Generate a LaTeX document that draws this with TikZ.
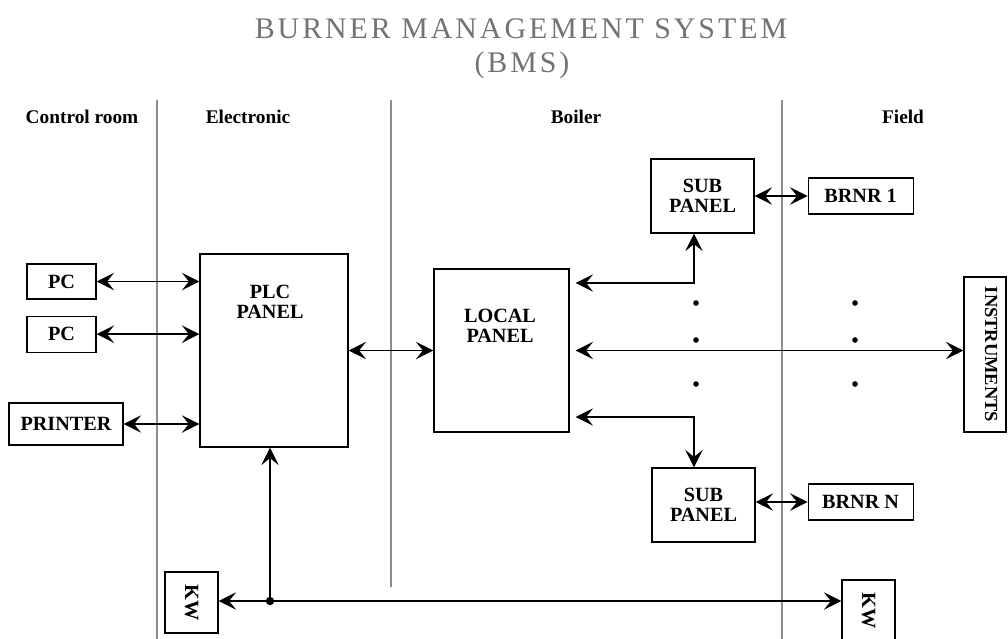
\documentclass[tikz,border=0pt]{standalone}
\usepackage{fontspec}
\setmainfont{Liberation Serif}
\usepackage{tikz}
\usetikzlibrary{positioning,calc,arrows.meta}

\begin{document}
\begin{tikzpicture}[x=0.02cm, y=-0.02cm,
                    bms block/.style={rectangle, draw, line width=0.65pt, inner sep=0pt, align=center, font=\fontsize{11.5}{11.5}\selectfont\bfseries},
                    bms text/.style={align=center, inner sep=0pt, font=\fontsize{11.5}{11.5}\selectfont\bfseries},
                    bms zone/.style={anchor=base, inner sep=0pt, font=\fontsize{11}{13}\selectfont\bfseries},
                    bms title/.style={anchor=base, inner sep=0pt, text=black!55, font=\fontsize{17}{20}\selectfont\addfontfeature{LetterSpace=10}},
                    bms sep/.style={draw=black!45, line width=0.6pt},
                    bms arrow/.style={{Stealth[length=10pt,width=10pt,inset=4pt]}-{Stealth[length=10pt,width=10pt,inset=4pt]}, line width=0.9pt},
                    bms single/.style={-{Stealth[length=10pt,width=10pt,inset=4pt]}, line width=0.9pt}]

    \useasboundingbox (0,0) rectangle (1008,639);

    % title
    \node [bms title] (title) at (521,38) {BURNER MANAGEMENT SYSTEM};
    \node [bms title] (bms) at (522,72) {(BMS)};

    % zones
    \node [bms zone] (zone control) at (82,123) {Control room};
    \node [bms zone] (zone electronic) at (248,123) {Electronic};
    \node [bms zone] (zone boiler) at (576,123) {Boiler};
    \node [bms zone] (zone field) at (903,123) {Field};
    \draw [bms sep] (157,100) -- (157,639);
    \draw [bms sep] (391,100) -- (391,587);
    \draw [bms sep] (782,100) -- (782,639);

    % control room
    \node [bms block, minimum width=1.38cm, minimum height=0.7cm] (pc1) at (61.5,281.5) {PC};
    \node [bms block, minimum width=1.38cm, minimum height=0.72cm, below=0.32cm of pc1] (pc2) {PC};
    \node [bms block, minimum width=2.28cm, minimum height=0.84cm] (printer) at (66,424) {PRINTER};

    % electronic
    \node [bms block, minimum width=2.96cm, minimum height=3.86cm] (plc) at (274,350.5) {};
    \node [bms text] (plc label) at (270,302) {PLC\\PANEL};
    \node [bms block, minimum width=1.06cm, minimum height=1.22cm] (kw left) at (191.5,602.5) {\rotatebox{-90}{KW}};

    % boiler
    \node [bms block, minimum width=2.7cm, minimum height=3.26cm] (local) at (501.5,350.5) {};
    \node [bms text] (local label) at (500,326) {LOCAL\\PANEL};
    \node [bms block, minimum width=2.06cm, minimum height=1.48cm] (sub1) at (702.5,196) {SUB\\PANEL};
    \node [bms block, minimum width=2.06cm, minimum height=1.48cm] (subn) at (703.5,505) {SUB\\PANEL};

    % field
    \node [bms block, minimum width=2.1cm, minimum height=0.72cm, right=1.06cm of sub1] (brnr1) {BRNR 1};
    \node [bms block, minimum width=2.1cm, minimum height=0.72cm, right=1.04cm of subn, yshift=0.06cm] (brnrn) {BRNR N};
    \node [bms block, minimum width=0.84cm, minimum height=3.1cm, font=\fontsize{10.5}{12}\selectfont\bfseries] (instr) at (985,354.5) {\hspace*{0.25cm}\rotatebox{-90}{INSTRUMENTS}};
    \node [bms block, minimum width=1.06cm, minimum height=1.22cm] (kw right) at (868.5,610.5) {\rotatebox{-90}{KW}};

    % links
    \draw [bms arrow] (pc1.east) -- (pc1.east -| plc.west);
    \draw [bms arrow] (pc2.east) -- (pc2.east -| plc.west);
    \draw [bms arrow] (printer.east) -- (printer.east -| plc.west);
    \draw [bms arrow] (plc.east) -- (local.west);
    \draw [bms arrow] (sub1.east) -- (sub1.east -| brnr1.west);
    \draw [bms arrow] (brnrn.west) -- (brnrn.west -| subn.east);

    \coordinate (bend up) at (694,283);
    \coordinate (bend down) at (694,417);
    \draw [bms arrow, shorten <=0.12cm] (local.east |- bend up) -- (bend up) -- (bend up |- sub1.south);
    \draw [bms arrow, shorten <=0.12cm] (local.east |- bend down) -- (bend down) -- (bend down |- subn.north);
    \draw [bms arrow, shorten <=0.12cm] (local.east) -- (local.east -| instr.west);

    \foreach \dx in {696,855}
        \foreach \dy in {303,340,384}
            \fill (\dx,\dy) circle (1.6pt);

    % bus
    \coordinate (junction) at (270,601);
    \draw [bms single] (junction) -- (junction |- plc.south);
    \draw [bms single] (junction) -- (junction -| kw left.east);
    \draw [bms single] (junction) -- (junction -| kw right.west);
    \fill (junction) circle (2.4pt);

\end{tikzpicture}
\end{document}
